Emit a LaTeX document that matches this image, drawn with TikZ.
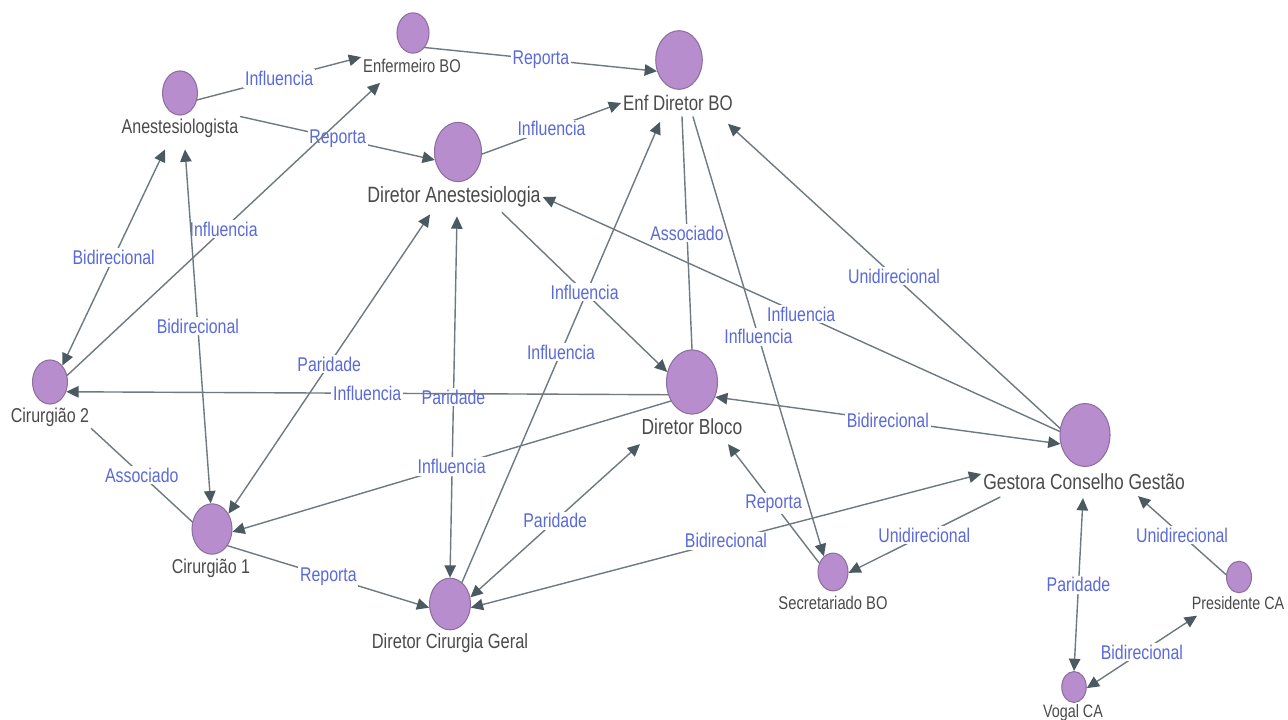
\documentclass[tikz,border=0pt]{standalone}
\usepackage{fontspec}
\setmainfont{Liberation Sans}[FakeStretch=0.8]
\usepackage{tikz}
\usetikzlibrary{arrows.meta,shapes.geometric}
\definecolor{orgFill}{HTML}{B88DCE}
\definecolor{orgRim}{HTML}{8C6FA0}
\definecolor{orgInk}{HTML}{4A4A4A}
\definecolor{orgRel}{HTML}{5A6AD8}
\definecolor{orgLine}{HTML}{6E7A80}
\definecolor{orgTip}{HTML}{4B5A61}
\tikzset{
  org diagram/.style={x=0.02cm, y=-0.02cm, line cap=round, line join=round},
  org actor/.style={ellipse, draw=orgRim, fill=orgFill, line width=0.6pt,
    inner sep=0pt, minimum width=#1, minimum height=1.26*#1},
  org name/.style={text=orgInk, inner sep=1pt, font=\fontsize{#1}{#1}\selectfont},
  org rel/.style={text=orgRel, fill=white, inner sep=1pt,
    font=\fontsize{11.3}{12}\selectfont},
  org link/.style={draw=orgLine, line width=0.8pt},
  org uni/.style={org link, -{Triangle[length=7pt,width=6.5pt,color=orgTip]}},
  org bi/.style={org link,
    {Triangle[length=7pt,width=6.5pt,color=orgTip]}-{Triangle[length=7pt,width=6.5pt,color=orgTip]}}
}
\begin{document}
\begin{tikzpicture}[org diagram]
\fill[white] (0,0) rectangle (1288,720);
\useasboundingbox (0,0) rectangle (1288,720);
\node[org actor=0.64cm] (enf) at (413,33) {};
\node[org name=10.5] (enfL) at (412,66) {Enfermeiro BO};
\node[org actor=0.70cm] (anest) at (180,93) {};
\node[org name=11.4] (anestL) at (180,128) {Anestesiologista};
\node[org actor=0.93cm] (enfdir) at (679,60) {};
\node[org name=12] (enfdirL) at (678,103) {Enf Diretor BO};
\node[org actor=0.94cm] (dirAn) at (458,152) {};
\node[org name=12.6] (dirAnL) at (454,197) {Diretor Anestesiologia};
\node[org actor=0.70cm] (cir2) at (50,382) {};
\node[org name=11.4] (cir2L) at (50,417) {Cirurgião 2};
\node[org actor=1.02cm] (dirBl) at (692,382) {};
\node[org name=12.4] (dirBlL) at (692,427) {Diretor Bloco};
\node[org actor=1.0cm] (gest) at (1085,435) {};
\node[org name=12.4] (gestL) at (1084,482) {Gestora Conselho Gestão};
\node[org actor=0.80cm] (cir1) at (212,529) {};
\node[org name=11.4] (cir1L) at (211,568) {Cirurgião 1};
\node[org actor=0.82cm] (dirCg) at (450,604) {};
\node[org name=11.7] (dirCgL) at (450,643) {Diretor Cirurgia Geral};
\node[org actor=0.60cm] (sec) at (833,572) {};
\node[org name=10.5] (secL) at (833,603) {Secretariado BO};
\node[org actor=0.50cm] (pres) at (1239,577) {};
\node[org name=10.2] (presL) at (1238,603) {Presidente CA};
\node[org actor=0.49cm] (vogal) at (1074,687) {};
\node[org name=10.2] (vogalL) at (1073,713) {Vogal CA};
\draw[org uni] (anest.-22) -- node[org rel] {Influencia} (enfL.north west);
\draw[org uni] (anestL.north east) -- node[org rel] {Reporta} (dirAn.199);
\draw[org uni] (cir2.21) -- node[org rel] {Influencia} ([shift={(-32,8)}]enfL.south);
\draw[org uni] (enf.-51) -- node[org rel] {Reporta} (enfdir.207);
\draw[org uni] (dirAn.-5) -- node[org rel] {Influencia} (enfdirL.west);
\draw[org bi] ([shift={(-15,10)}]anestL.south) -- node[org rel] {Bidirecional} (cir2.53);
\draw[org bi] ([shift={(5,10)}]anestL.south) -- node[org rel] {Bidirecional} (cir1.93);
\draw[org bi] (cir1.43) -- node[org rel] {Paridade} ([shift={(-24,5)}]dirAnL.south);
\draw[org bi] ([shift={(3,7)}]dirAnL.south) -- node[org rel] {Paridade} (dirCg.north);
\draw[org uni] (dirBl.208) -- node[org rel] {Influencia} (cir2.-31);
\draw[org link] (cir2L.south east) -- node[org rel] {Associado} (cir1.160);
\draw[org uni] (dirBl.222) -- node[org rel] {Influencia} (cir1.-8);
\draw[org uni] (cir1.-47) -- node[org rel] {Reporta} (dirCg.190);
\draw[org uni] (dirCg.61) -- node[org rel] {Influencia} ([shift={(-18,9)}]enfdirL.south);
\draw[org uni] ([shift={(48,3)}]dirAnL.south) -- node[org rel] {Influencia} (dirBl.158);
\draw[org bi] (dirCg.18) -- node[org rel] {Paridade} ([shift={(-52,7)}]dirBlL.south);
\draw[org link] ([shift={(4,4)}]enfdirL.south) -- node[org rel] {Associado} (dirBl.north);
\draw[org uni] ([shift={(15,4)}]enfdirL.south) -- node[org rel] {Influencia} (sec.120);
\draw[org uni] (gest.172) -- node[org rel] {Influencia} (dirAnL.east);
\draw[org uni] (gest.165) -- node[org rel] {Unidirecional} ([shift={(50,11)}]enfdirL.south);
\draw[org bi] (dirBl.-33) -- node[org rel] {Bidirecional} (gest.200);
\draw[org bi] (dirCg.-10) -- node[org rel] {Bidirecional} ([shift={(0,-8)}]gestL.west);
\draw[org uni] (sec.147) -- node[org rel] {Reporta} ([shift={(36,7)}]dirBlL.south);
\draw[org uni] ([shift={(-84,5)}]gestL.south) -- node[org rel] {Unidirecional} (sec.-3);
\draw[org bi] ([shift={(-1,6)}]gestL.south) -- node[org rel] {Paridade} (vogal.north);
\draw[org uni] (pres.170) -- node[org rel] {Unidirecional} ([shift={(54,4)}]gestL.south);
\draw[org bi] (vogal.-5) -- node[org rel] {Bidirecional} ([shift={(-41,4)}]presL.south);
\end{tikzpicture}
\end{document}
